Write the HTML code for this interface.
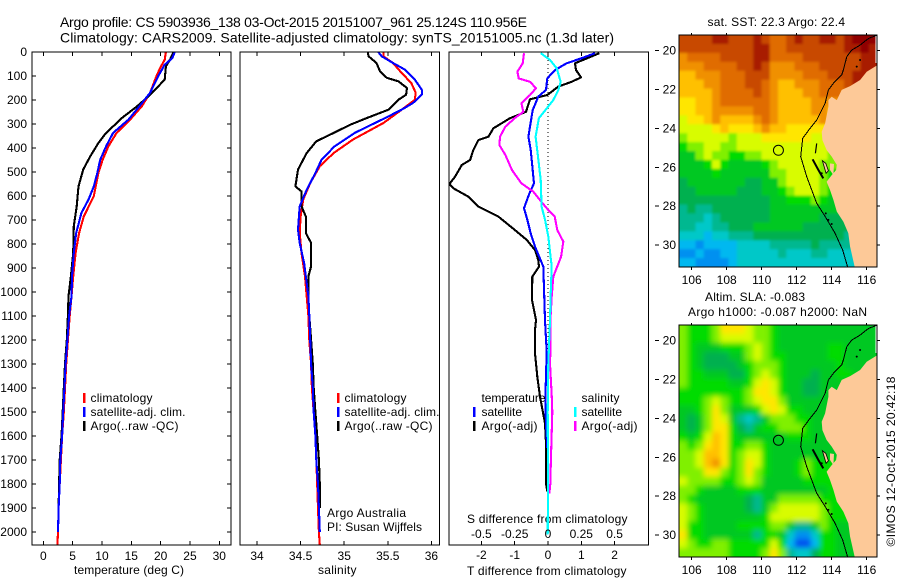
<!DOCTYPE html>
<html>
<head>
<meta charset="utf-8">
<title>Argo profile</title>
<style>
html,body{margin:0;padding:0;background:#fff;width:900px;height:580px;overflow:hidden}
svg{display:block}
text{font-family:"Liberation Sans",sans-serif;font-size:12px;fill:#000}
</style>
</head>
<body>
<svg id="chart" xmlns="http://www.w3.org/2000/svg" width="900" height="580" viewBox="0 0 900 580">
<defs>
<clipPath id="clipT"><rect x="32" y="52" width="199" height="493"/></clipPath>
<clipPath id="clipS"><rect x="240" y="52" width="200" height="493"/></clipPath>
<clipPath id="clipD"><rect x="449" y="52" width="200" height="493"/></clipPath>
<clipPath id="clipM1"><rect x="679" y="35" width="198" height="232"/></clipPath>
<clipPath id="clipM2"><rect x="679" y="325" width="198" height="232"/></clipPath>
<filter id="soft1" x="-5%" y="-5%" width="110%" height="110%"><feGaussianBlur stdDeviation="1.2"/></filter>
<filter id="soft2" x="-5%" y="-5%" width="110%" height="110%"><feGaussianBlur stdDeviation="2.6"/></filter>
</defs>

<text x="60" y="27" style="font-size:14px" textLength="467">Argo profile: CS 5903936_138 03-Oct-2015 20151007_961 25.124S 110.956E</text>
<text x="60" y="42.5" style="font-size:14px" textLength="554">Climatology: CARS2009. Satellite-adjusted climatology: synTS_20151005.nc (1.3d later)</text>

<text x="74" y="574" textLength="110">temperature (deg C)</text>
<text x="318" y="574" textLength="38.5">salinity</text>
<text x="467" y="575" textLength="159.5">T difference from climatology</text>
<text x="467" y="523" textLength="160.5">S difference from climatology</text>

<g>
<rect x="83" y="393" width="2.5" height="10" fill="#f00"/>
<rect x="83" y="407" width="2.5" height="10" fill="#00f"/>
<rect x="83" y="421" width="2.5" height="10" fill="#000"/>
<text x="90.5" y="402" textLength="62">climatology</text>
<text x="90.5" y="416" textLength="95">satellite-adj. clim.</text>
<text x="90.5" y="430" textLength="88">Argo(..raw -QC)</text>
</g>
<g>
<rect x="337" y="393" width="2.5" height="10" fill="#f00"/>
<rect x="337" y="407" width="2.5" height="10" fill="#00f"/>
<rect x="337" y="421" width="2.5" height="10" fill="#000"/>
<text x="344.5" y="402" textLength="62">climatology</text>
<text x="344.5" y="416" textLength="95">satellite-adj. clim.</text>
<text x="344.5" y="430" textLength="88">Argo(..raw -QC)</text>
<text x="327" y="517" textLength="79">Argo Australia</text>
<text x="327" y="531" textLength="95">PI: Susan Wijffels</text>
</g>

<text x="707.5" y="26" textLength="137.5">sat. SST: 22.3 Argo: 22.4</text>
<text x="705" y="301" textLength="100">Altim. SLA: -0.083</text>
<text x="688" y="316" textLength="179">Argo h1000: -0.087 h2000: NaN</text>
<text transform="translate(895,546.5) rotate(-90)" textLength="170">©IMOS 12-Oct-2015 20:42:18</text>
</svg>

<script>
// ---- temperature panel data (depth in m, temperature in deg C)
var tClimDepth = [0,32,67,100,170,226,282,337,393,449,504,601,685,754,837,935,1018,1100,1200,1300,1400,1500,1600,1700,1800,1900,2000,2054];
var tClimValue = [20.9,20.7,19.9,19.3,18.2,16.8,14.8,12.5,11.1,10.1,9.4,8.6,6.9,6.1,5.5,5.1,4.8,4.5,4.2,3.9,3.7,3.5,3.2,3.0,2.8,2.6,2.5,2.4];
var tSatDepth = [0,25,53,100,170,226,282,337,393,449,504,560,615,671,754,837,935,1018,1100,1200,1300,1400,1500,1600,1700,1800,1900,2000];
var tSatValue = [22.4,22.0,20.7,19.6,18.2,16.4,14.5,11.9,10.7,9.7,9.2,8.6,7.7,6.5,5.6,5.2,4.9,4.8,4.4,4.1,3.8,3.6,3.4,3.2,2.9,2.8,2.6,2.5];
var tArgoDepth = [0,32,60,115,143,185,226,275,303,337,379,435,490,560,643,726,837,935,1018,1100,1200,1300,1400,1500,1600,1700,1800,1900];
var tArgoValue = [22.2,21.6,20.9,20.7,19.6,17.9,16.0,13.4,12.2,10.7,9.4,8.0,6.8,6.0,5.7,5.2,5.1,4.7,4.3,4.2,4.0,3.7,3.5,3.3,3.1,2.8,2.7,2.6];

// ---- salinity panel data
var sClimDepth = [0,18,46,88,129,170,199,240,296,365,421,476,546,615,685,754,837,935,1018,1100,1200,1300,1400,1500,1600,1700,1800,1900,2000,2054];
var sClimValue = [35.45,35.45,35.56,35.66,35.77,35.82,35.81,35.66,35.45,35.10,34.88,34.72,34.61,34.53,34.50,34.49,34.51,34.55,34.57,34.59,34.60,34.62,34.63,34.65,34.67,34.68,34.69,34.70,34.71,34.72];
var sSatDepth = [0,18,46,74,115,157,178,212,240,275,337,393,449,504,574,643,740,796,879,1018,1100,1200,1300,1400,1500,1600,1700,1800,1900,2000];
var sSatValue = [35.39,35.43,35.56,35.70,35.81,35.89,35.89,35.79,35.66,35.47,35.12,34.89,34.74,34.67,34.57,34.49,34.47,34.49,34.54,34.59,34.60,34.61,34.62,34.64,34.65,34.67,34.68,34.70,34.71,34.72];
var sArgoDepth = [0,18,46,80,108,122,150,178,199,240,275,303,337,372,421,490,560,581,643,685,754,796,851,893,935,1018,1100,1200,1300,1400,1500,1600,1700,1800,1900];
var sArgoValue = [35.27,35.28,35.37,35.41,35.49,35.62,35.72,35.71,35.62,35.51,35.26,35.07,34.88,34.68,34.57,34.47,34.44,34.51,34.51,34.56,34.56,34.62,34.62,34.62,34.59,34.59,34.60,34.62,34.64,34.65,34.67,34.69,34.71,34.72,34.72];

// ---- difference panel data
var dTempArgoDepth = [5,47,75,106,124,144,179,197,249,276,318,353,367,408,450,471,519,550,568,603,644,686,742,783,825,867,894,936,1033,1117,1158,1256,1353,1436,1547,1631,1797,1831];
var dTempArgoValue = [1.54,0.81,0.84,0.99,0.71,0.31,-0.02,-0.54,-0.66,-1.14,-1.64,-1.79,-2.09,-2.24,-2.34,-2.59,-2.79,-2.96,-2.84,-2.39,-2.09,-1.49,-0.99,-0.64,-0.39,-0.29,-0.27,-0.47,-0.48,-0.36,-0.39,-0.39,-0.32,-0.24,-0.09,-0.06,-0.06,-0.02];
var dTempSatDepth = [5,26,47,75,110,158,186,242,311,353,408,547,589,651,700,756,811,894,1117,1250,1350,1450,1550,1650];
var dTempSatValue = [1.41,1.01,0.56,0.21,-0.02,-0.06,-0.29,-0.46,-0.54,-0.59,-0.52,-0.42,-0.56,-0.72,-0.62,-0.52,-0.39,-0.14,-0.09,-0.04,-0.06,-0.08,-0.06,-0.02];
var dSalArgoDepth = [5,47,82,110,124,151,179,214,249,276,311,353,388,429,492,547,582,617,651,686,742,790,853,936,1019,1117,1200,1300,1430,1500,1700,1800,1840];
var dSalArgoValue = [-0.18,-0.19,-0.23,-0.22,-0.135,-0.09,-0.135,-0.20,-0.185,-0.25,-0.32,-0.36,-0.365,-0.32,-0.27,-0.20,-0.11,-0.06,-0.01,0.05,0.07,0.115,0.098,0.04,0.028,0.018,0.02,0.015,0.028,0.032,0.022,0.017,0.01];
var dSalSatDepth = [5,33,68,124,158,200,235,276,353,422,533,644,700,769,894,1006,1117,1300,1500,1800,2010];
var dSalSatValue = [-0.055,0.015,0.065,0.095,0.078,0.04,-0.01,-0.068,-0.093,-0.078,-0.055,-0.048,-0.022,0.002,0.028,0.02,0.015,0.002,-0.002,0,-0.002];

// ---- tick labels
var depthTicks = [0,100,200,300,400,500,600,700,800,900,1000,1100,1200,1300,1400,1500,1600,1700,1800,1900,2000];
var tempTicks = [0,5,10,15,20,25,30];
var salTicks = [34,34.5,35,35.5,36];
var diffTTicks = [-2,-1,0,1,2];
var diffSTicks = [-0.5,-0.25,0,0.25,0.5];
var lonTicks = [106,108,110,112,114,116];
var latTicks = [20,22,24,26,28,30];

// ---- map data: colour level per cell, north to south, west to east
var sstRows = [
[14,14,14,14,15,15,14,14,14,15,14,13,13,14,15,14,14,15,15,14,15,16,16,16],
[14,14,14,14,14,14,14,14,14,15,15,13,13,14,14,14,14,14,14,14,15,15,16,15],
[12,13,13,13,13,14,14,14,14,15,15,13,13,13,13,14,14,14,14,14,14,14,15,15],
[12,12,12,13,13,13,13,14,14,15,14,12,12,12,13,13,13,14,14,14,14,14,15,15],
[11,11,12,12,12,13,13,13,14,14,14,12,12,12,12,13,13,13,14,14,14,15,15,15],
[11,11,11,12,12,13,13,13,14,14,13,12,11,11,12,12,12,13,13,13,14,15,15,15],
[11,11,11,11,12,13,13,13,13,14,13,12,11,11,11,12,12,13,13,13,13,13,13,13],
[10,10,11,11,12,13,13,13,13,13,13,12,11,11,11,11,12,12,12,12,12,12,12,12],
[10,10,11,11,12,12,12,12,12,13,13,12,11,11,11,11,12,12,11,11,11,11,11,11],
[9,10,10,11,12,11,11,11,11,12,13,12,11,11,11,11,11,12,11,11,11,11,11,11],
[9,9,9,9,10,11,10,10,10,11,12,11,11,10,10,10,10,10,10,10,10,10,10,10],
[8,9,9,9,9,9,8,9,9,9,10,10,10,10,10,10,9,9,9,9,9,9,9,9],
[7,8,8,9,9,8,8,9,9,9,9,9,9,9,9,9,9,9,9,8,8,8,8,8],
[6,6,8,9,8,8,7,7,8,8,9,9,9,9,9,9,9,9,8,8,8,8,8,8],
[6,6,6,7,9,7,6,6,6,6,7,8,9,9,9,9,9,8,8,8,8,8,8,8],
[6,6,6,6,7,6,6,6,6,6,6,8,8,9,9,9,9,8,7,7,7,7,7,7],
[5,6,6,6,6,6,6,6,5,5,6,6,8,9,9,9,9,8,7,7,7,7,7,7],
[5,5,6,6,6,6,6,5,5,5,6,6,7,8,9,9,9,8,7,7,7,7,7,7],
[5,5,5,5,5,5,5,5,5,5,5,6,6,7,7,7,8,7,6,6,6,6,6,6],
[4,5,4,4,5,5,5,5,5,5,5,6,6,6,6,6,6,6,6,6,6,6,6,6],
[4,4,4,3,4,5,5,5,5,5,5,6,6,6,6,6,6,5,5,5,5,5,5,5],
[4,4,3,3,4,4,5,5,5,6,6,6,6,6,6,5,5,5,5,5,5,5,5,5],
[3,3,3,2,3,3,4,4,4,5,5,5,5,5,5,5,5,5,5,5,4,4,4,4],
[2,2,1,2,2,2,2,3,3,3,3,4,4,4,4,4,5,4,4,4,4,3,3,3],
[1,1,2,1,1,2,2,3,3,3,3,3,4,3,3,3,4,4,3,3,3,3,3,3],
[2,2,1,1,1,1,2,3,3,3,3,3,3,3,3,3,3,3,3,3,3,3,3,3]
];
var slaRows = [
[8,7,7,7,8,10,10,10,9,8,8,7,6,6,6,6,6,6,6,6,6,6,6,6],
[8,7,7,7,8,9,9,9,9,8,8,7,6,6,6,6,6,6,6,6,6,6,6,6],
[8,7,6,6,6,7,7,7,8,9,8,7,6,6,6,6,6,6,7,7,6,6,6,6],
[8,7,6,5,5,5,6,6,8,9,8,7,7,6,6,6,6,6,7,7,6,6,6,6],
[8,7,6,5,5,5,5,6,7,8,8,8,7,6,6,6,6,6,6,7,6,6,6,6],
[8,7,7,6,6,6,5,5,7,8,9,8,7,6,6,6,5,6,6,7,7,6,6,6],
[8,7,7,7,7,7,6,6,7,9,10,9,7,6,6,5,5,6,6,6,6,6,6,6],
[7,7,7,7,7,7,7,7,8,10,10,9,7,6,6,5,5,6,6,6,6,6,6,6],
[7,7,7,8,9,8,7,7,8,9,10,10,8,6,6,6,6,6,6,6,6,6,6,6],
[6,6,7,8,10,8,6,6,6,7,9,10,9,7,7,6,6,6,6,6,6,6,6,6],
[6,5,6,8,10,9,6,4,3,4,6,8,8,8,7,7,6,6,6,6,6,6,6,6],
[6,5,6,8,10,10,7,5,4,6,7,7,8,8,8,7,6,6,7,7,6,6,6,6],
[7,6,7,9,11,10,7,6,6,6,6,6,6,7,7,7,6,6,6,6,6,6,6,6],
[8,7,8,10,11,10,7,7,8,8,7,6,6,6,6,6,6,6,6,6,6,6,6,6],
[8,8,9,11,11,10,7,8,9,9,7,6,6,6,6,6,6,6,6,6,6,6,6,6],
[8,8,9,11,12,10,7,8,10,9,7,6,6,6,7,8,7,7,7,7,6,6,6,6],
[8,8,8,10,10,8,7,8,10,8,7,6,6,6,7,8,7,7,7,7,6,6,6,6],
[9,8,8,8,8,7,7,8,9,8,6,6,6,6,6,7,7,7,7,7,6,6,6,6],
[8,8,7,6,6,6,6,7,7,7,6,6,6,6,6,6,6,6,7,7,6,6,6,6],
[8,7,6,6,6,6,6,6,5,4,6,6,8,8,8,8,8,7,7,7,6,6,6,6],
[9,8,7,6,6,6,6,6,5,4,6,8,9,9,9,9,9,8,7,7,7,6,6,6],
[9,8,7,6,6,6,6,6,6,6,7,9,9,9,9,9,9,8,7,7,7,6,6,6],
[9,7,7,6,6,6,6,7,7,7,7,8,8,6,4,4,6,8,7,6,6,6,6,6],
[10,7,7,6,6,6,6,6,6,4,7,7,6,3,1,1,3,7,7,6,6,6,6,6],
[9,8,7,7,8,8,7,7,7,7,7,9,7,2,0,0,2,7,7,6,6,6,6,6],
[8,8,8,8,8,8,7,7,7,7,8,10,8,4,3,3,5,7,7,6,6,6,6,6]
];
var levelColors = ["#0050f0","#0090f0","#00b8f0","#00c8c8","#00b890","#00b050","#00c820","#00dc00","#80f000","#d8fc00","#ffe600","#ffc000","#f09000","#e06c00","#c84800","#a81c00","#900000"];

// ---- coast and isobath in degrees
var landLon = [116.61,116.0,115.62,115.05,114.57,114.29,114.0,113.81,113.81,113.62,113.43,113.47,113.71,114.0,114.29,114.25,114.0,113.71,113.9,114.1,114.29,114.67,114.95,115.05,115.33,116.7,116.7];
var landLat = [20.74,21.08,21.51,21.82,22.02,22.54,22.37,22.54,22.88,23.74,24.17,24.6,25.11,25.45,25.88,26.14,26.4,26.74,27.17,27.68,28.28,28.8,29.4,30.09,31.2,31.2,20.74];
var isoLon = [116.61,116.1,115.62,115.14,114.86,114.67,114.57,114.1,113.81,113.62,113.14,112.76,112.34,112.23,112.57,113.14,113.62,114.19,114.63,114.9];
var isoLat = [19.19,19.37,19.71,19.97,20.31,20.99,21.25,21.68,22.02,22.71,23.57,24.0,24.51,25.45,26.48,27.85,28.53,29.39,30.26,31.11];
var islandLon = [112.91,113.24,113.52];
var islandLat = [25.59,26.14,26.57];
var peronLon = [113.47,113.66,113.81,113.68];
var peronLat = [25.66,25.8,26.18,26.31];
var bayLon = [113.9,114.13,114.1,113.9];
var bayLat = [25.8,25.83,26.4,26.14];
var reefLon = [113.14,113.07];
var reefLat = [24.77,25.28];
var rockLon = [113.43,115.43,115.62,113.66,113.81,114.0];
var rockLat = [26.31,20.82,20.48,28.37,28.71,28.92];
var argoLon = 110.956;
var argoLat = 25.124;

var svg = document.getElementById('chart');
var NS = 'http://www.w3.org/2000/svg';

function node(tag, parent, attrs){
  var el = document.createElementNS(NS, tag);
  for (var k in attrs) el.setAttribute(k, attrs[k]);
  parent.appendChild(el);
  return el;
}

// axis functions
function yDepth(d){ return 52 + d * 0.24; }
function xTemp(v){ return 43.3 + v * 5.867; }
function xSal(v){ return 257 + (v - 34) * 87.2; }
function xDiffT(v){ return 548 + v * 33.3; }
function xDiffS(v){ return 548 + v * 133.2; }
function xLon(v){ return 691.7 + (v - 106) * 17.5; }
function yLat(v, top){ return top + 15.7 + (v - 20) * 19.43; }

function drawLine(parent, name, xs, ys, xf, color, clip){
  var pts = [];
  for (var i = 0; i < xs.length; i++) pts.push(xf(xs[i]).toFixed(1) + ',' + yDepth(ys[i]).toFixed(1));
  var el = node('polyline', parent, {points: pts.join(' '), fill: 'none', stroke: color, 'stroke-width': 2.1, 'stroke-linejoin': 'round', 'shape-rendering': 'crispEdges', 'clip-path': 'url(#' + clip + ')'});
  
  
  return el;
}

function drawBox(x, y, w, h, name){
  var el = node('rect', svg, {x: x, y: y, width: w, height: h, fill: 'none', stroke: '#000', 'stroke-width': 1, 'shape-rendering': 'crispEdges'});
  
  
}

function tick(parent, x1, y1, x2, y2){
  var el = node('line', parent, {x1: x1, y1: y1, x2: x2, y2: y2, stroke: '#000', 'stroke-width': 1, 'shape-rendering': 'crispEdges'});
  
  
}

function label(parent, x, y, txt, anchor, len){
  var el = node('text', parent, {x: x, y: y, 'text-anchor': anchor});
  if (len) el.setAttribute('textLength', len);
  el.textContent = txt;
  
  
}

// profile panels
var tempPanel = node('g', svg, {});


var salPanel = node('g', svg, {});


var diffPanel = node('g', svg, {});



drawLine(tempPanel, 'temperature-climatology-line', tClimValue, tClimDepth, xTemp, '#f00', 'clipT');
drawLine(tempPanel, 'temperature-argo-line', tArgoValue, tArgoDepth, xTemp, '#000', 'clipT');
drawLine(tempPanel, 'temperature-satellite-line', tSatValue, tSatDepth, xTemp, '#00f', 'clipT');
drawLine(salPanel, 'salinity-climatology-line', sClimValue, sClimDepth, xSal, '#f00', 'clipS');
drawLine(salPanel, 'salinity-argo-line', sArgoValue, sArgoDepth, xSal, '#000', 'clipS');
drawLine(salPanel, 'salinity-satellite-line', sSatValue, sSatDepth, xSal, '#00f', 'clipS');

var zero = node('line', diffPanel, {x1: xDiffT(0), y1: 52, x2: xDiffT(0), y2: yDepth(1900), stroke: '#000', 'stroke-width': 1, 'stroke-dasharray': '1 3'});


drawLine(diffPanel, 'temperature-diff-argo-line', dTempArgoValue, dTempArgoDepth, xDiffT, '#000', 'clipD');
drawLine(diffPanel, 'temperature-diff-satellite-line', dTempSatValue, dTempSatDepth, xDiffT, '#00f', 'clipD');
drawLine(diffPanel, 'salinity-diff-argo-line', dSalArgoValue, dSalArgoDepth, xDiffS, '#f0f', 'clipD');
drawLine(diffPanel, 'salinity-diff-satellite-line', dSalSatValue, dSalSatDepth, xDiffS, '#0ff', 'clipD');

drawBox(32, 52, 199, 493, 'temperature-plot-frame');
drawBox(240, 52, 199.5, 493, 'salinity-plot-frame');
drawBox(449, 52, 199.5, 493, 'difference-plot-frame');

depthTicks.forEach(function(d){
  var y = yDepth(d);
  tick(tempPanel, 32, y, 36, y);
  tick(tempPanel, 227, y, 231, y);
  label(tempPanel, 27, y + 4, String(d), 'end');
});
tempTicks.forEach(function(v){
  var x = xTemp(v);
  tick(tempPanel, x, 52, x, 56);
  tick(tempPanel, x, 541, x, 545);
  label(tempPanel, x, 560, String(v), 'middle');
});
salTicks.forEach(function(v){
  var x = xSal(v);
  tick(salPanel, x, 52, x, 56);
  tick(salPanel, x, 541, x, 545);
  label(salPanel, x, 560, String(v), 'middle');
});
diffTTicks.forEach(function(v){
  var x = xDiffT(v);
  tick(diffPanel, x, 52, x, 56);
  tick(diffPanel, x, 541, x, 545);
  label(diffPanel, x, 559, String(v), 'middle');
});
diffSTicks.forEach(function(v){
  label(diffPanel, xDiffS(v), 538, String(v), 'middle');
});

// difference legend
var diffLegend = node('g', svg, {});


var legendCols = [
  {x: 473, tx: 481.5, head: 'temperature', headLen: 64, satLen: 40.5, argoLen: 56, c1: '#00f', c2: '#000'},
  {x: 574, tx: 581.5, head: 'salinity', headLen: 38, satLen: 40.5, argoLen: 56, c1: '#0ff', c2: '#f0f'}
];
legendCols.forEach(function(col){
  label(diffLegend, col.tx, 402, col.head, 'start', col.headLen);
  label(diffLegend, col.tx, 416, 'satellite', 'start', col.satLen);
  label(diffLegend, col.tx, 430, 'Argo(-adj)', 'start', col.argoLen);
  var a = node('rect', diffLegend, {x: col.x, y: 407, width: 2.5, height: 10, fill: col.c1});
  
  
  var b = node('rect', diffLegend, {x: col.x, y: 421, width: 2.5, height: 10, fill: col.c2});
  
  
});

// maps
function geoPoints(lons, lats, top){
  var p = [];
  for (var i = 0; i < lons.length; i++) p.push(xLon(lons[i]).toFixed(1) + ',' + yLat(lats[i], top).toFixed(1));
  return p.join(' ');
}

function drawMap(rows, top, clip, blur, name){
  var left = 679, W = 198, H = 232;
  var map = node('g', svg, {'clip-path': 'url(#' + clip + ')'});
  
  
  var heat = node('g', map, {filter: 'url(#' + blur + ')'});
  
  
  var nr = rows.length;
  rows.forEach(function(row, r){
    var nc = row.length;
    row.forEach(function(level, c){
      var x = left + c * W / nc, y = top + r * H / nr, w = W / nc + 0.5, h = H / nr + 0.5;
      if (c === 0) { x -= 12; w += 12; }
      if (c === nc - 1) { w += 12; }
      if (r === 0) { y -= 12; h += 12; }
      if (r === nr - 1) { h += 12; }
      var cell = node('rect', heat, {x: x, y: y, width: w, height: h, fill: levelColors[Math.max(0, Math.min(levelColors.length - 1, Math.round(level)))]});
      
      
    });
  });
  var land = node('polygon', map, {points: geoPoints(landLon, landLat, top), fill: '#fdc998'});
  
  
  var strip = node('rect', map, {x: 875.5, y: top, width: 2, height: 28, fill: '#fff'});
  
  
  var peron = node('polygon', map, {points: geoPoints(peronLon, peronLat, top), fill: '#fdc998', stroke: '#000', 'stroke-width': 0.8});
  
  
  var bay = node('polygon', map, {points: geoPoints(bayLon, bayLat, top), fill: '#fdc998'});
  
  
  var island = node('polyline', map, {points: geoPoints(islandLon, islandLat, top), fill: 'none', stroke: '#000', 'stroke-width': 2});
  
  
  var reef = node('polyline', map, {points: geoPoints(reefLon, reefLat, top), fill: 'none', stroke: '#000', 'stroke-width': 1.2});
  
  
  rockLon.forEach(function(lon, i){
    var rock = node('circle', map, {cx: xLon(lon), cy: yLat(rockLat[i], top), r: 1, fill: '#000'});
    
    
  });
  var iso = node('polyline', map, {points: geoPoints(isoLon, isoLat, top), fill: 'none', stroke: '#000', 'stroke-width': 1, 'shape-rendering': 'crispEdges'});
  
  
  var ring = node('circle', map, {cx: xLon(argoLon), cy: yLat(argoLat, top), r: 5, fill: 'none', stroke: '#000', 'stroke-width': 1});
  
  

  drawBox(679, top, 198, 232, name + '-frame');
  var axes = node('g', svg, {});
  
  
  lonTicks.forEach(function(v){
    var x = xLon(v);
    tick(axes, x, top - 2, x, top);
    tick(axes, x, top + 232, x, top + 235);
    label(axes, x, top + 249, String(v), 'middle');
  });
  latTicks.forEach(function(v){
    var y = yLat(v, top);
    tick(axes, 655, y, 659, y);
    tick(axes, 877, y, 880, y);
    label(axes, 676, y + 4, String(v), 'end');
  });
}
drawMap(sstRows, 35, 'clipM1', 'soft1', 'sst-map');
drawMap(slaRows, 325, 'clipM2', 'soft2', 'sla-map');
</script>
</body>
</html>
